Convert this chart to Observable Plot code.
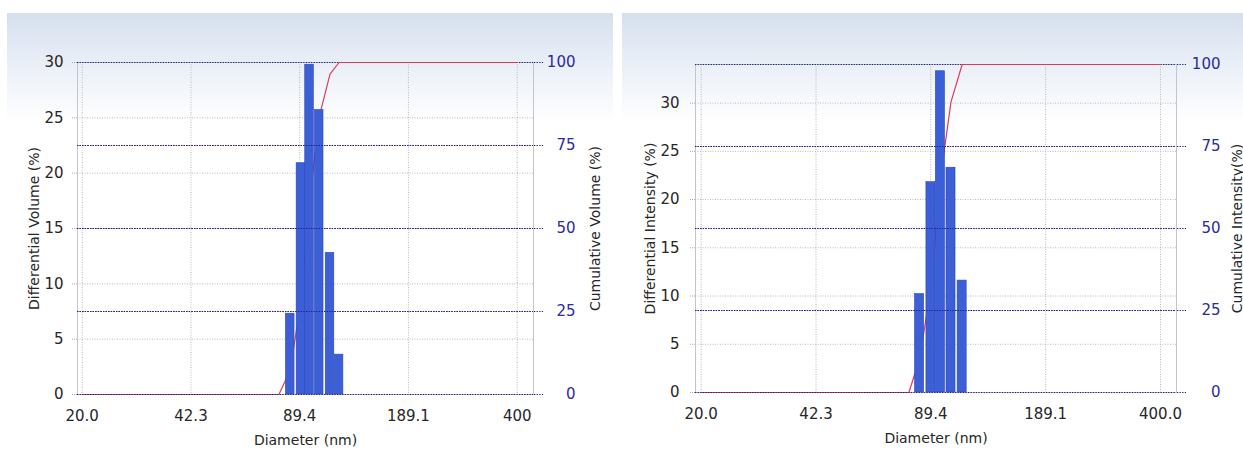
<!DOCTYPE html>
<html><head><meta charset="utf-8">
<script src="https://cdn.jsdelivr.net/npm/d3@7"></script>
<script src="https://cdn.jsdelivr.net/npm/@observablehq/plot@0.6"></script>
<style>
body{margin:0;background:#fff;}
#wrap{position:relative;width:1243px;height:452px;overflow:hidden;font-family:"DejaVu Sans",sans-serif;}
.panel{position:absolute;top:13px;height:434px;background:linear-gradient(to bottom,#d5dfed 0px,#e6ecf5 40px,#ffffff 110px);}
#bgL{left:7px;width:606px;}
#bgR{left:622px;width:621px;}
.chart{position:absolute;top:0;}
#cL{left:0px;}
#cR{left:620px;}
</style></head><body>
<div id="wrap"><div class="panel" id="bgL"></div><div class="panel" id="bgR"></div><div class="chart" id="cL"></div><div class="chart" id="cR"></div></div>
<script>
// tick values and labels
const xTicks = [20, 42.3, 89.4, 189.1, 400];
const xTickLabelsL = ["20.0", "42.3", "89.4", "189.1", "400"];
const xTickLabelsR = ["20.0", "42.3", "89.4", "189.1", "400.0"];
const diffTicks = [0, 5, 10, 15, 20, 25, 30];
const cumTicks = [0, 25, 50, 75, 100];

// left panel: volume distribution
const volDiameter = [83.8, 90.2, 95.7, 102.3, 110.2, 117.3];
const volDiff = [7.3, 20.9, 29.8, 25.7, 12.8, 3.6];
const volCumDiameter = [20, 77.5, 83.8, 90.2, 95.7, 102.3, 110.2, 117.3, 400];
const volCum = [0, 0, 7.3, 28.2, 58.0, 83.7, 96.5, 100, 100];

// right panel: intensity distribution
const intDiameter = [83.1, 89.5, 95.2, 102.0, 109.7];
const intDiff = [10.2, 21.8, 33.3, 23.3, 11.6];
const intCumDiameter = [20, 77.5, 83.1, 89.5, 95.2, 102.0, 109.7, 400];
const intCum = [0, 0, 10.2, 32.0, 65.3, 88.6, 100, 100];

const FONT = '"DejaVu Sans", Verdana, sans-serif';
const GRID = "#b9b9b9";
const NAVY = "#1c1c8a";
const TICKFONT = 15;

function panel(o) {
  const bars = o.diam.map((d, i) => ({d, v: o.diff[i]}));
  const line = o.cumD.map((d, i) => ({d, c: o.cum[i]}));
  const k = o.yMax / 100;
  const yTicks = diffTicks.filter(t => t <= o.yMax);
  const navyRule = {y: d => d * k, stroke: NAVY, strokeWidth: 1.1, strokeDasharray: "1.3,1.3"};
  return Plot.plot({
    width: o.width, height: 452,
    marginLeft: o.mL, marginRight: o.mR, marginTop: o.mT, marginBottom: o.mB,
    style: {background: "transparent", fontFamily: FONT, fontSize: "14px", color: "#262626", overflow: "visible"},
    x: {type: "log", domain: o.xDomain},
    y: {domain: [0, o.yMax]},
    marks: [
      Plot.ruleX(xTicks, {stroke: GRID, strokeDasharray: "1,1.5"}),
      Plot.ruleY(yTicks.filter(t => t > 0), {stroke: GRID, strokeDasharray: "1,1.5"}),
      Plot.frame({stroke: "#c4c4cc"}),
      Plot.ruleY(cumTicks.filter(t => t > 0), navyRule),
      Plot.line(line, {x: "d", y: d => d.c * k, stroke: "#dc3c5c", strokeWidth: 1.2}),
      Plot.rect(bars, {x1: d => d.d / 1.03, x2: d => d.d * 1.03, y1: 0, y2: "v", fill: "#3c5fd8", stroke: "#2b47b3", strokeWidth: 0.6}),
      Plot.ruleY(cumTicks.filter(t => t < 100), navyRule),
      Plot.axisX({ticks: xTicks, text: d => o.xLabels[xTicks.indexOf(d)], tickSize: 0, tickPadding: 16,
        fontSize: TICKFONT, label: null}),
      Plot.axisX({ticks: [], label: "Diameter (nm)", labelAnchor: "center", labelOffset: o.xLabelOffset, labelArrow: false}),
      Plot.axisY({ticks: yTicks, tickSize: 5, tickPadding: o.yPad, stroke: "#aaaaaa", strokeDasharray: "1,1",
        fill: "#262626", fontSize: TICKFONT, label: null}),
      Plot.axisY({ticks: [], label: o.yLabel, labelAnchor: "center", labelOffset: o.yLabelOffset, labelArrow: false}),
      Plot.axisY({anchor: "right", ticks: cumTicks.map(t => t * k), tickFormat: d => String(Math.round(d / k)),
        tickSize: 9, tickPadding: o.cumPad, textAnchor: "end", stroke: NAVY, strokeDasharray: "1.3,1.3",
        fill: "#2b2b9e", fontSize: TICKFONT, label: null}),
      Plot.axisY({anchor: "right", ticks: [], label: o.cumLabel, labelAnchor: "center",
        labelOffset: o.cumLabelOffset, fill: "#262626", labelArrow: false})
    ]
  });
}

document.getElementById("cL").append(panel({
  width: 620, mL: 77, mR: 87, mT: 62, mB: 58,
  xDomain: [19.36, 447.5], yMax: 30,
  diam: volDiameter, diff: volDiff, cumD: volCumDiameter, cum: volCum,
  xLabels: xTickLabelsL, yLabel: "Differential Volume (%)", cumLabel: "Cumulative Volume (%)",
  yPad: 9, cumPad: 33, yLabelOffset: 48, cumLabelOffset: 66, xLabelOffset: 50
}));

document.getElementById("cR").append(panel({
  width: 623, mL: 75, mR: 67, mT: 64, mB: 60,
  xDomain: [19.27, 444], yMax: 34,
  diam: intDiameter, diff: intDiff, cumD: intCumDiameter, cum: intCum,
  xLabels: xTickLabelsR, yLabel: "Differential Intensity (%)", cumLabel: "Cumulative Intensity(%)",
  yPad: 11, cumPad: 35, yLabelOffset: 50, cumLabelOffset: 65, xLabelOffset: 50
}));
</script>
</body></html>
